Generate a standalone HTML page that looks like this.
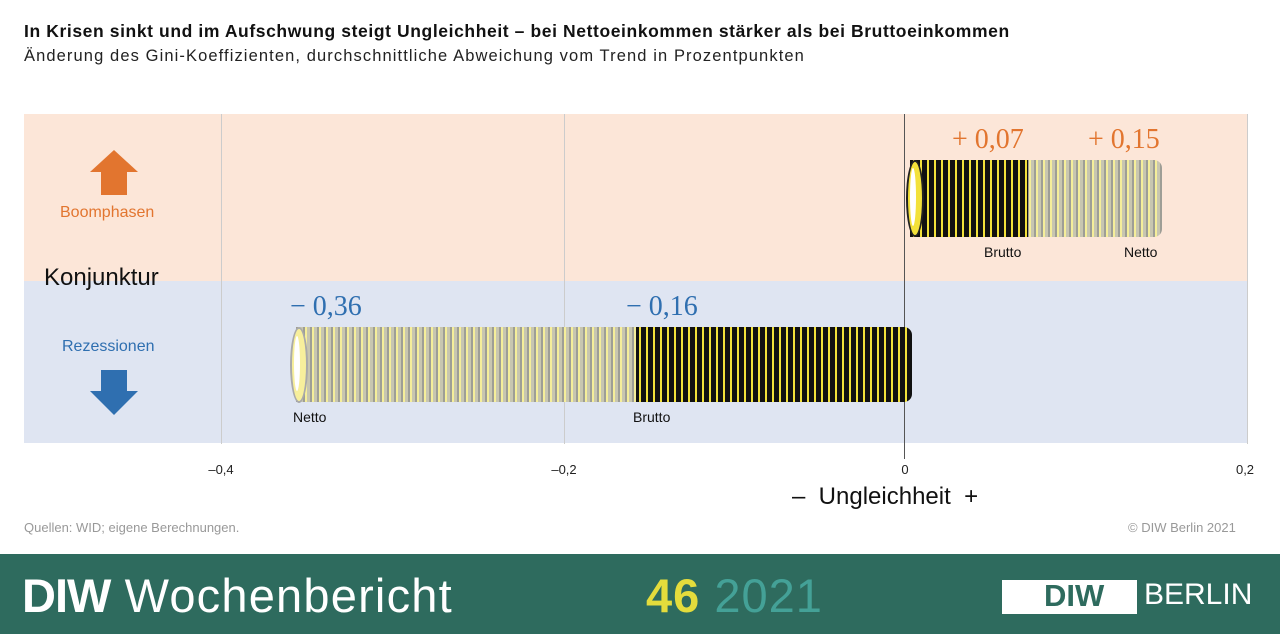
<!DOCTYPE html>
<html><head><meta charset="utf-8"><style>
body{margin:0;width:1280px;height:634px;background:#fff;position:relative;overflow:hidden;font-family:"Liberation Sans",sans-serif}
.a{position:absolute}
.t1{left:24px;top:21px;font-size:17.5px;letter-spacing:0.6px;font-weight:bold;color:#111;white-space:nowrap}
.t2{left:24px;top:47px;font-size:16.5px;letter-spacing:1.1px;color:#222;white-space:nowrap}
.grid{width:1px;background:#ccc;top:114px;height:330px}
.tick{top:462px;font-size:13px;color:#222;transform:translateX(-50%)}
.dark{background:repeating-linear-gradient(90deg,#111 0 3px,#f2e13a 3px 5px,#111 5px 7px);}
.light{background:repeating-linear-gradient(90deg,#9e9e96 0 2px,#f5ee9a 2px 4px,#c8c6b0 4px 7px);}
.lab{font-size:14px;color:#111}
.val{font-family:"Liberation Serif",serif;font-size:28px}
</style></head><body>
<div class="a t1">In Krisen sinkt und im Aufschwung steigt Ungleichheit – bei Nettoeinkommen stärker als bei Bruttoeinkommen</div>
<div class="a t2">Änderung des Gini-Koeffizienten, durchschnittliche Abweichung vom Trend in Prozentpunkten</div>
<div class="a" style="left:24px;top:114px;width:1224px;height:167px;background:#fce6d8"></div>
<div class="a" style="left:24px;top:281px;width:1224px;height:162px;background:#dfe5f2"></div>
<div class="a grid" style="left:221px"></div>
<div class="a grid" style="left:564px"></div>
<div class="a grid" style="left:1247px"></div>
<div class="a" style="left:904px;top:114px;width:1px;height:345px;background:#555"></div>
<div class="a tick" style="left:221px">–0,4</div>
<div class="a tick" style="left:564px">–0,2</div>
<div class="a tick" style="left:905px">0</div>
<div class="a tick" style="left:1245px">0,2</div>
<div class="a" style="left:792px;top:483px;font-size:24px;color:#111">–&nbsp; Ungleichheit &nbsp;+</div>
<div class="a" style="left:44px;top:264px;font-size:24px;color:#111">Konjunktur</div>
<div class="a" style="left:90px;top:150px;width:0;height:0;border-left:24px solid transparent;border-right:24px solid transparent;border-bottom:22px solid #e2752f"></div>
<div class="a" style="left:101px;top:171px;width:26px;height:24px;background:#e2752f"></div>
<div class="a" style="left:60px;top:204px;font-size:16px;color:#e2752f">Boomphasen</div>
<div class="a" style="left:62px;top:338px;font-size:16px;color:#2f6fb0">Rezessionen</div>
<div class="a" style="left:101px;top:370px;width:26px;height:22px;background:#2f6fb0"></div>
<div class="a" style="left:90px;top:391px;width:0;height:0;border-left:24px solid transparent;border-right:24px solid transparent;border-top:24px solid #2f6fb0"></div>
<div class="a light" style="left:1020px;top:160px;width:142px;height:77px;border-radius:0 8px 8px 0"></div>
<div class="a dark" style="left:910px;top:160px;width:118px;height:77px"></div>
<div class="a" style="left:906px;top:160px;width:14px;height:73px;border:2px solid #222;border-radius:50%;background:#f3e13a"></div>
<div class="a" style="left:910px;top:168px;width:6px;height:58px;border-radius:50%;background:#fff"></div>
<div class="a val" style="left:952px;top:124px;color:#e2752f">+ 0,07</div>
<div class="a val" style="left:1088px;top:124px;color:#e2752f">+ 0,15</div>
<div class="a lab" style="left:984px;top:244px">Brutto</div>
<div class="a lab" style="left:1124px;top:244px">Netto</div>
<div class="a light" style="left:296px;top:327px;width:344px;height:75px"></div>
<div class="a dark" style="left:636px;top:327px;width:276px;height:75px;border-radius:0 8px 8px 0"></div>
<div class="a" style="left:290px;top:327px;width:14px;height:72px;border:2px solid #aaa;border-radius:50%;background:#f7ef9c"></div>
<div class="a" style="left:294px;top:336px;width:6px;height:55px;border-radius:50%;background:#fff"></div>
<div class="a val" style="left:290px;top:291px;color:#2f6fb0">− 0,36</div>
<div class="a val" style="left:626px;top:291px;color:#2f6fb0">− 0,16</div>
<div class="a lab" style="left:293px;top:409px">Netto</div>
<div class="a lab" style="left:633px;top:409px">Brutto</div>
<div class="a" style="left:24px;top:520px;font-size:13px;color:#999">Quellen: WID; eigene Berechnungen.</div>
<div class="a" style="left:1128px;top:520px;font-size:13px;color:#999">© DIW Berlin 2021</div>
<div class="a" style="left:0;top:554px;width:1280px;height:80px;background:#2e6b5e"></div>
<div class="a" style="left:22px;top:568px;font-size:47px;color:#fff;letter-spacing:1.2px;white-space:nowrap"><b style="letter-spacing:-1px">DIW</b> Wochenbericht</div>
<div class="a" style="left:646px;top:568px;font-size:47px;letter-spacing:1px;color:#44a197;white-space:nowrap"><b style="color:#e4dc3c">46</b> 2021</div>
<div class="a" style="left:1002px;top:580px;width:135px;height:34px;background:#fff"></div>
<div class="a" style="left:1044px;top:578px;font-size:31px;font-weight:bold;color:#2e6b5e">DIW</div>
<div class="a" style="left:1144px;top:578px;font-size:30px;color:#fff">BERLIN</div>
</body></html>
